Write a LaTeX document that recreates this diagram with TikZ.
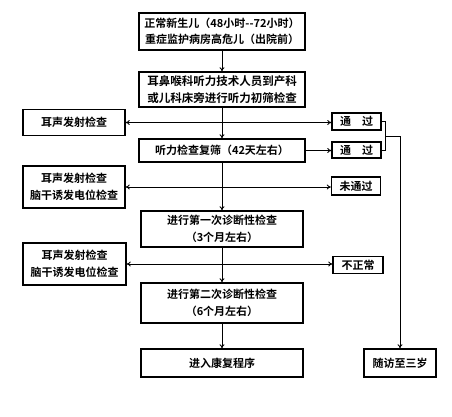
\documentclass[tikz,border=0pt]{standalone}
\usepackage{fontspec}
\setmainfont{Noto Sans CJK SC}[BoldFont={Noto Sans CJK SC Bold}]
\usetikzlibrary{arrows.meta}
\begin{document}
\begin{tikzpicture}[x=1pt,y=-1pt,
  box/.style={draw, line width=1.3pt, inner sep=0pt, align=center,
    font=\bfseries\fontsize{11}{16.5}\selectfont},
  conn/.style={line width=0.9pt, -{To[length=4pt,width=5pt]}},
  conn2/.style={line width=0.9pt, {To[length=4pt,width=5pt]}-{To[length=4pt,width=5pt]}},
  plain/.style={line width=0.9pt}]
\useasboundingbox (0,0) rectangle (452,416);
\node[box, minimum width=166pt, minimum height=37pt] (top) at (222,31.5) {正常新生儿（48小时-{}-72小时）\\重症监护病房高危儿（出院前）};
\node[box, minimum width=166pt, minimum height=35pt, font=\bfseries\fontsize{11.5}{16.5}\selectfont] (b2) at (222,89.5) {耳鼻喉科听力技术人员到产科\\或儿科床旁进行听力初筛检查};
\node[box, minimum width=166pt, minimum height=23pt] (b3) at (222,150.5) {听力检查复筛（42天左右）};
\node[box, minimum width=162pt, minimum height=36pt] (b4) at (222,229) {进行第一次诊断性检查\\（3个月左右）};
\node[box, minimum width=162pt, minimum height=40pt] (b5) at (222,303) {进行第二次诊断性检查\\（6个月左右）};
\node[box, minimum width=162pt, minimum height=28pt] (b6) at (222,363) {进入康复程序};
\node[box, minimum width=102pt, minimum height=26pt] (L1) at (74,122.5) {耳声发射检查};
\node[box, minimum width=102pt, minimum height=42pt] (L2) at (74,187) {耳声发射检查\\脑干诱发电位检查};
\node[box, minimum width=103pt, minimum height=42pt] (L3) at (74.5,264) {耳声发射检查\\脑干诱发电位检查};
\node[box, minimum width=49pt, minimum height=17pt] (T1) at (356.5,121.5) {通\hspace{1em}过};
\node[box, minimum width=49pt, minimum height=16pt] (T2) at (356.5,150) {通\hspace{1em}过};
\node[box, minimum width=49pt, minimum height=18pt] (F) at (356,186) {未通过};
\node[box, minimum width=50pt, minimum height=17pt] (N) at (358,265) {不正常};
\node[box, minimum width=72pt, minimum height=28pt] (S) at (400,363) {随访至三岁};
% main vertical flow
\draw[conn] (top) -- (b2);
\draw[conn] (b2) -- (b3);
\draw[conn] (b3) -- (b4);
\draw[conn] (b4) -- (b5);
\draw[conn] (b5) -- (b6);
% horizontal branches
\draw[conn2] (L1.east) -- (L1.east -| T1.west);
\draw[conn] (b3.east) -- (b3.east -| T2.west);
\draw[conn2] (L2.east) -- (L2.east -| F.west);
\draw[conn2] (L3.east) -- (L3.east -| N.west);
% bracket to follow-up
\coordinate (br) at (385,136);
\draw[plain] (T1.east) -- (T1.east -| br) -- (T2.east -| br) -- (T2.east);
\draw[conn] (br) -- (br -| S.north) -- (S.north);
\end{tikzpicture}
\end{document}
